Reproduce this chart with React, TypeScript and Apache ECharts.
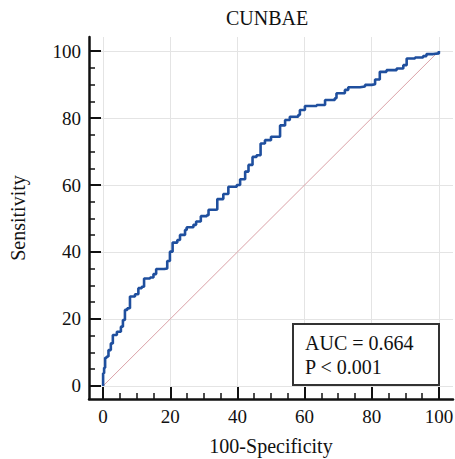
import React, { useEffect, useRef } from "react";
import * as echarts from "echarts";

const chartTitle = "CUNBAE";
const xName = "100-Specificity";
const yName = "Sensitivity";
const majorTicks = [0, 20, 40, 60, 80, 100];
const minorTicks = [5, 10, 15, 25, 30, 35, 45, 50, 55, 65, 70, 75, 85, 90, 95];
const aucLines = ["AUC = 0.664", "P < 0.001"];

// ROC curve: 100-Specificity (x) and Sensitivity (y)
const fpr = [
  0, 0, 0.3, 0.6, 1.1, 1.6, 2.3, 2.9, 4.1, 5.3, 5.9, 6.5, 7.2, 8.0, 9.5, 10.5, 11.5, 12.2, 14.0, 15.0,
  15.8, 18.2, 19.1, 19.9, 20.7, 22.1, 22.9, 24.4, 24.9, 26.9, 27.7, 29.1, 30.9, 31.4, 33.5, 34.0, 35.8,
  37.3, 39.8, 40.8, 42.3, 43.3, 44.5, 45.7, 46.9, 48.2, 50.0, 52.4, 52.7, 54.2, 55.6, 58.1, 58.6, 60.1,
  63.6, 66.1, 69.0, 69.5, 72.0, 73.0, 76.5, 78.0, 80.0, 81.0, 82.4, 84.4, 87.4, 89.4, 90.4, 92.9, 95.3,
  96.3, 98.3, 100,
];
const tpr = [
  0, 3.8, 5.4, 8.4, 8.8, 10.7, 12.7, 15.2, 16.2, 17.7, 19.7, 22.7, 23.2, 26.7, 27.4, 29.2, 29.6, 32.1, 32.4, 33.4,
  34.9, 35.1, 37.3, 40.1, 42.8, 43.6, 45.1, 46.6, 47.4, 48.1, 49.1, 50.7, 51.0, 52.6, 52.7, 55.8, 57.3,
  59.5, 60.0, 61.7, 64.0, 66.0, 68.4, 68.9, 72.4, 73.4, 74.4, 74.5, 77.8, 79.4, 80.4, 80.9, 82.4, 83.6,
  83.9, 85.4, 85.9, 87.4, 88.4, 89.2, 89.4, 89.9, 90.1, 91.5, 93.8, 94.3, 94.8, 95.8, 97.8, 98.1, 98.5,
  99.1, 99.3, 100,
];
const diagonalX = [0, 100];
const diagonalY = [0, 100];

const FONT = "Liberation Serif";

export default function App() {
  const ref = useRef<HTMLDivElement>(null);
  useEffect(() => {
    if (!ref.current) return;
    const chart = echarts.init(ref.current, undefined, { renderer: "svg" });
    const xMin = -4.2, xMax = 104.2, yMin = -3.9, yMax = 104.2;
    const majorAxisCommon = {
      axisLine: { show: true, onZero: false, lineStyle: { color: "#111", width: 2.5 } },
      axisTick: { show: true, inside: true, length: 12, customValues: majorTicks, lineStyle: { color: "#111", width: 2 } },
      axisLabel: {
        show: true, customValues: majorTicks, color: "#111", fontSize: 19, fontFamily: FONT, margin: 8,
        formatter: "{t|{value}}",
        rich: { t: { fontFamily: FONT, fontSize: 19, color: "#111" } },
      },
      splitLine: { show: true, lineStyle: { color: "#e4e4e4", width: 1 } },
    };
    const minorAxisCommon = {
      axisLine: { show: false, onZero: false },
      axisTick: { show: true, inside: true, length: 6, customValues: minorTicks, lineStyle: { color: "#111", width: 1.5 } },
      axisLabel: { show: false },
      splitLine: { show: false },
    };
    chart.setOption({
      animation: false,
      backgroundColor: "#fff",
      textStyle: { fontFamily: FONT },
      grid: { left: 89, right: 2, top: 37, bottom: 60, containLabel: false, outerBoundsMode: "none" },
      xAxis: [
        {
          type: "value", position: "bottom", min: xMin, max: xMax, ...majorAxisCommon,
          name: xName, nameLocation: "middle", nameGap: 37,
          nameTextStyle: { color: "#111", fontSize: 20, fontFamily: FONT },
        },
        { type: "value", position: "bottom", min: xMin, max: xMax, ...minorAxisCommon },
      ],
      yAxis: [
        {
          type: "value", position: "left", min: yMin, max: yMax, ...majorAxisCommon,
          name: yName, nameLocation: "middle", nameGap: 61,
          nameTextStyle: { color: "#111", fontSize: 20, fontFamily: FONT },
        },
        { type: "value", position: "left", min: yMin, max: yMax, ...minorAxisCommon },
      ],
      series: [
        {
          type: "line",
          xAxisIndex: 0, yAxisIndex: 0,
          data: diagonalX.map((x, i) => [x, diagonalY[i]]),
          showSymbol: false, symbol: "none",
          lineStyle: { color: "#dba2a8", width: 1 },
          z: 2,
        },
        {
          type: "line",
          xAxisIndex: 0, yAxisIndex: 0,
          step: "end",
          data: fpr.map((x, i) => [x, tpr[i]]),
          showSymbol: false, symbol: "none",
          lineStyle: { color: "#1f4f9e", width: 2.6 },
          z: 3,
        },
      ],
      graphic: [
        {
          type: "text", left: 268 - 42, top: 8,
          style: { text: chartTitle, fontSize: 20, fontFamily: FONT, fill: "#111" },
        },
        {
          type: "rect", shape: { x: 293, y: 324, width: 146, height: 61 },
          style: { fill: "#fff", stroke: "#333", lineWidth: 2 }, z: 10,
        },
        {
          type: "text", x: 305, y: 343, z: 11,
          style: { text: aucLines[0], fontSize: 20, fontFamily: FONT, fill: "#111", verticalAlign: "middle" },
        },
        {
          type: "text", x: 305, y: 367, z: 11,
          style: { text: aucLines[1], fontSize: 20, fontFamily: FONT, fill: "#111", verticalAlign: "middle" },
        },
      ],
    });
    return () => chart.dispose();
  }, []);
  return <div ref={ref} style={{ position: "fixed", left: 0, top: 0, width: 455, height: 459 }} />;
}
